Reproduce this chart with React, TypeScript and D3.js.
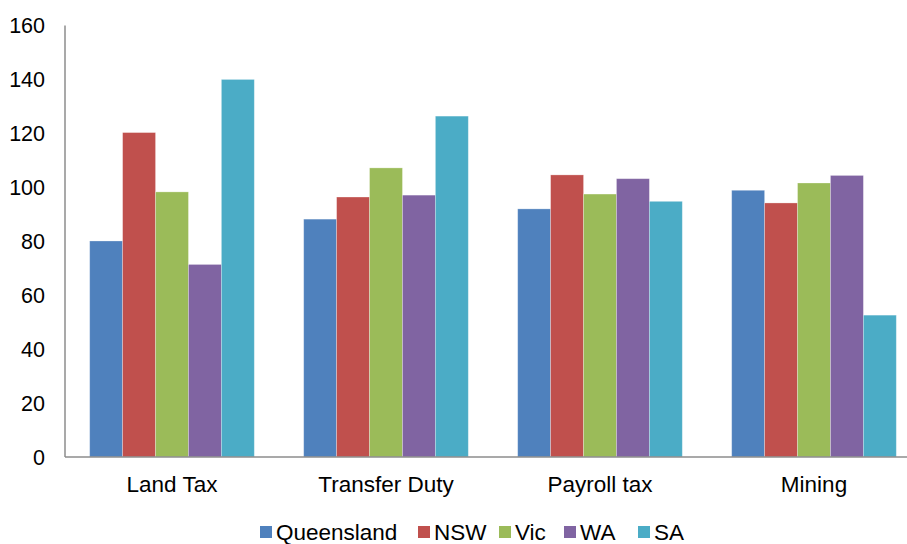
import React from "react";
import * as d3 from "d3";

const categories = ["Land Tax", "Transfer Duty", "Payroll tax", "Mining"];
const seriesNames = ["Queensland", "NSW", "Vic", "WA", "SA"];
const queensland = [80.1, 88.2, 92.0, 98.9];
const nsw = [120.3, 96.4, 104.6, 94.2];
const vic = [98.3, 107.2, 97.5, 101.6];
const wa = [71.4, 97.1, 103.2, 104.4];
const sa = [140.0, 126.4, 94.8, 52.6];
const yTicks = [0, 20, 40, 60, 80, 100, 120, 140, 160];
const colors = ["#4F81BD", "#C0504D", "#9BBB59", "#8064A2", "#4BACC6"];

const seriesValues = [queensland, nsw, vic, wa, sa];

export default function App() {
  const W = 907;
  const H = 544;
  const left = 65;
  const right = 921;
  const top = 25.5;
  const bottom = 457;
  const font = "'Liberation Sans', Arial, sans-serif";

  const x0 = d3.scaleBand<string>().domain(categories).range([left, right]).padding(0);
  const x1 = d3
    .scaleBand<string>()
    .domain(seriesNames)
    .range([0, x0.bandwidth()])
    .paddingInner(0)
    .paddingOuter(0.75);
  const y = d3.scaleLinear().domain([0, 160]).range([bottom, top]);

  const legendItems = [
    { name: "Queensland", sx: 260, tx: 276 },
    { name: "NSW", sx: 418, tx: 434 },
    { name: "Vic", sx: 499, tx: 515 },
    { name: "WA", sx: 564, tx: 580 },
    { name: "SA", sx: 638, tx: 654 },
  ];

  return (
    <svg
      width={W}
      height={H}
      style={{ position: "absolute", left: 0, top: 0, background: "#fff" }}
      fontFamily={font}
    >
      {seriesNames.map((s, si) =>
        categories.map((c, ci) => {
          const v = seriesValues[si][ci];
          return (
            <rect
              key={s + c}
              x={(x0(c) as number) + (x1(s) as number)}
              y={y(v)}
              width={x1.bandwidth()}
              height={y(0) - y(v)}
              fill={colors[si]}
              stroke="#ffffff"
              strokeOpacity={0.35}
              strokeWidth={0.8}
            />
          );
        })
      )}
      <line x1={left} x2={left} y1={top} y2={bottom} stroke="#8c8c8c" strokeWidth={1.5} />
      <line x1={left} x2={W} y1={bottom} y2={bottom} stroke="#8c8c8c" strokeWidth={1.5} />
      {yTicks.map((t) => (
        <text
          key={t}
          x={45}
          y={y(t)}
          dy="0.36em"
          textAnchor="end"
          fontSize={21.5}
          fill="#000"
        >
          {t}
        </text>
      ))}
      {categories.map((c) => (
        <text
          key={c}
          x={(x0(c) as number) + x0.bandwidth() / 2}
          y={492}
          textAnchor="middle"
          fontSize={22.5}
          fill="#000"
        >
          {c}
        </text>
      ))}
      {legendItems.map((it, i) => (
        <g key={it.name}>
          <rect x={it.sx} y={526} width={12} height={12} fill={colors[i]} />
          <text x={it.tx} y={540} fontSize={22.5} fill="#000">
            {it.name}
          </text>
        </g>
      ))}
    </svg>
  );
}
